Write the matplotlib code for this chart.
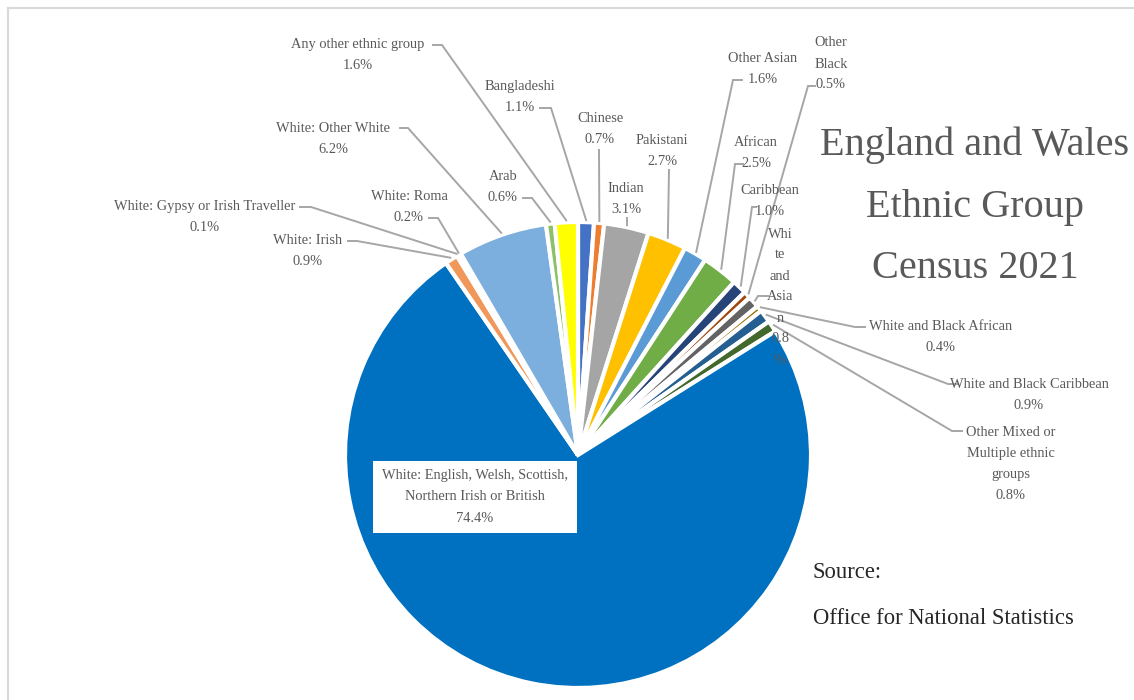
import matplotlib.pyplot as plt
import numpy as np

# England and Wales, ethnic group, Census 2021 (% of usual residents)
groups = ['Bangladeshi', 'Chinese', 'Indian', 'Pakistani', 'Other Asian',
          'African', 'Caribbean', 'Other Black',
          'White and Asian', 'White and Black African', 'White and Black Caribbean',
          'Other Mixed or Multiple ethnic groups',
          'White: English, Welsh, Scottish, Northern Irish or British',
          'White: Irish', 'White: Gypsy or Irish Traveller', 'White: Roma',
          'White: Other White', 'Arab', 'Any other ethnic group']
shares = [1.1, 0.7, 3.1, 2.7, 1.6,
          2.5, 1.0, 0.5,
          0.8, 0.4, 0.9, 0.8,
          74.4,
          0.9, 0.1, 0.2, 6.2, 0.6, 1.6]
colors = ['#4472C4', '#ED7D31', '#A5A5A5', '#FFC000', '#5B9BD5',
          '#70AD47', '#264478', '#9E480E',
          '#636363', '#997300', '#255E91', '#43682B',
          '#0070C0',
          '#F1975A', '#B7B7B7', '#FFCD33', '#7CAFDD', '#8CC168', '#FFFF00']

# how each label is broken into lines
label_names = ['Bangladeshi', 'Chinese', 'Indian', 'Pakistani', 'Other Asian',
               'African', 'Caribbean', 'Other\nBlack',
               'Whi\nte\nand\nAsia\nn', 'White and Black African', 'White and Black Caribbean',
               'Other Mixed or\nMultiple ethnic\ngroups',
               'White: English, Welsh, Scottish,\nNorthern Irish or British',
               'White: Irish', 'White: Gypsy or Irish Traveller', 'White: Roma',
               'White: Other White', 'Arab', 'Any other ethnic group']

H = 700
cx, cy, R = 578, 455, 233   # pie centre / radius in pixel coords (y down)

# label centres and leader stubs (pixel coords, y down)
label_pos = [(520, 97), (600, 129), (626, 199), (662, 151), (763, 69),
             (756, 153), (770, 201), (831, 64),
             (780, 297), (941, 337), (1029, 395), (1011, 464),
             (475, 497),
             (308, 251), (205, 217), (409, 207), (333, 139), (503, 187), (358, 55)]
stubs = [[(540, 108), (551, 108)], [(599, 150)], [(627, 218)], [(669, 170)],
         [(742, 80), (733, 80)],
         [(743, 164), (735, 164)], [(756, 207), (752, 207)], [(815, 86), (808, 86)],
         [(768, 296), (758, 296)], [(865, 327), (855, 327)], [(958, 384), (948, 384)],
         [(962, 431), (952, 431)],
         None,
         [(348, 241), (357, 241)], [(300, 207), (311, 207)], [(429, 218), (438, 218)],
         [(400, 128), (408, 128)], [(523, 198), (532, 198)], [(433, 45), (442, 45)]]

text_col = '#595959'
line_col = '#A6A6A6'
plt.rcParams['font.family'] = ['Liberation Serif', 'DejaVu Serif']

fig = plt.figure(figsize=(11.34, 7), dpi=100)
ax = fig.add_axes([0, 0, 1, 1])

ax.pie(shares, colors=colors, startangle=90, counterclock=False,
       center=(cx, H - cy), radius=R,
       wedgeprops=dict(edgecolor='white', linewidth=3))
ax.set_xlim(0, 1134)
ax.set_ylim(0, H)
ax.set_aspect('equal')
ax.axis('off')

# mid angle of each slice, clockwise from 12 o'clock
frac = np.array(shares) / sum(shares)
mid = (np.cumsum(frac) - frac / 2) * 2 * np.pi

for i, name in enumerate(groups):
    pct = f'{shares[i]:.1f}%'
    if label_names[i].startswith('Whi\nte'):
        txt = label_names[i] + '\n' + pct[:-1] + '\n%'
    else:
        txt = label_names[i] + '\n' + pct
    lx, ly = label_pos[i]
    if stubs[i] is None:
        # the big slice gets its label inside a white box
        ax.text(lx, H - ly, txt, ha='center', va='center', fontsize=10.4,
                color=text_col, linespacing=1.8,
                bbox=dict(boxstyle='square,pad=0.6', fc='white', ec='none'))
        continue
    ax.text(lx, H - ly, txt, ha='center', va='center', fontsize=10.4,
            color=text_col, linespacing=1.8)
    ex = cx + (R + 2) * np.sin(mid[i])
    ey = cy - (R + 2) * np.cos(mid[i])
    pts = stubs[i] + [(ex, ey)]
    ax.plot([p[0] for p in pts], [H - p[1] for p in pts], color=line_col,
            lw=1.4, solid_joinstyle='miter')

# title
for s, y in zip(['England and Wales', 'Ethnic Group', 'Census 2021'], [145, 208, 268]):
    ax.text(975, H - y, s, ha='center', va='center', fontsize=29, color=text_col)

ax.text(813, H - 572, 'Source:', ha='left', va='center', fontsize=16.3, color='#262626')
ax.text(813, H - 619, 'Office for National Statistics', ha='left', va='center',
        fontsize=16.3, color='#262626')

# chart area border
ax.plot([8, 1134], [H - 8, H - 8], color='#D9D9D9', lw=1.5)
ax.plot([8, 8], [0, H - 8], color='#D9D9D9', lw=1.5)

fig.savefig('out.png', dpi=100, facecolor='white')
